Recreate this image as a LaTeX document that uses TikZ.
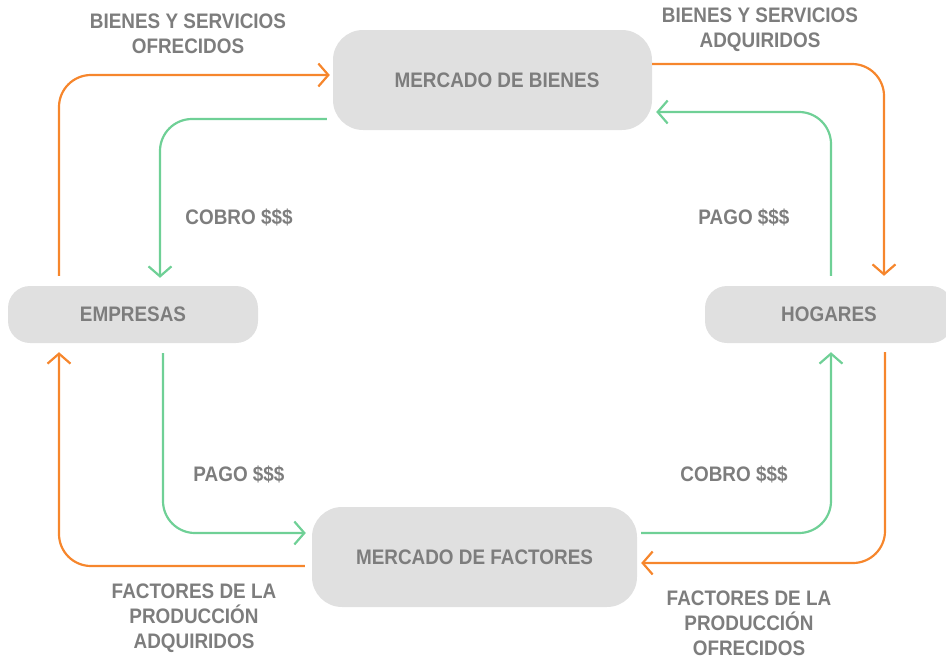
\documentclass[tikz,border=0pt]{standalone}
\usepackage{fontspec}
\setmainfont{Liberation Sans}[FakeStretch=0.9]
\usetikzlibrary{arrows.meta}
\definecolor{boxfill}{HTML}{E0E0E0}
\definecolor{txtgray}{HTML}{7D7D7D}
\definecolor{orangeC}{HTML}{F6862C}
\definecolor{greenC}{HTML}{6FD096}
\tikzset{
  box/.style={fill=boxfill, draw=none, text=txtgray, font=\bfseries\fontsize{21}{25}\selectfont, inner sep=0pt},
  lbl/.style={text=txtgray, font=\bfseries\fontsize{21}{25}\selectfont, align=center, inner sep=0pt},
  flow/.style={line width=2.2pt, rounded corners=32pt, -{Straight Barb[length=10pt,width=23pt,line width=2.2pt]}},
  oflow/.style={flow, draw=orangeC},
  gflow/.style={flow, draw=greenC}
}
\begin{document}
\begin{tikzpicture}[x=1pt,y=-1pt]
\useasboundingbox (0,0) rectangle (946,659);
\node[box, minimum width=319pt, minimum height=100pt, rounded corners=30pt] (bienes) at (492.5,80) {\hspace{9pt}MERCADO DE BIENES};
\node[box, minimum width=250pt, minimum height=57pt, rounded corners=22pt] (empresas) at (133,314.5) {EMPRESAS};
\node[box, minimum width=248pt, minimum height=57pt, rounded corners=22pt] (hogares) at (829,314.5) {HOGARES};
\node[box, minimum width=325pt, minimum height=100pt, rounded corners=30pt] (factores) at (474.5,557) {MERCADO DE FACTORES};

\draw[oflow] ([xshift=-74pt,yshift=10pt]empresas.north) |- ([xshift=-3pt,yshift=5pt]bienes.west);
\draw[gflow] ([xshift=-6pt,yshift=-39pt]bienes.west) -| ([xshift=27pt,yshift=8pt]empresas.north);
\draw[oflow] ([yshift=16pt]bienes.east) -| ([xshift=55pt,yshift=10pt]hogares.north);
\draw[gflow] ([xshift=2pt,yshift=10pt]hogares.north) |- ([xshift=4pt,yshift=-32pt]bienes.east);
\draw[gflow] ([xshift=30pt,yshift=-10pt]empresas.south) |- ([xshift=-6pt,yshift=24pt]factores.west);
\draw[oflow] ([xshift=-7pt,yshift=-9pt]factores.west) -| ([xshift=-74pt,yshift=-9pt]empresas.south);
\draw[gflow] ([xshift=4pt,yshift=24pt]factores.east) -| ([xshift=2pt,yshift=-9pt]hogares.south);
\draw[oflow] ([xshift=56pt,yshift=-9pt]hogares.south) |- ([xshift=4pt,yshift=-6pt]factores.east);

\node[lbl] (l1) at (188,34) {BIENES Y SERVICIOS\\OFRECIDOS};
\node[lbl] (l2) at (760,30) {BIENES Y SERVICIOS\\ADQUIRIDOS};
\node[lbl] (l3) at (239,217) {COBRO \$\$\$};
\node[lbl] (l4) at (744,217) {PAGO \$\$\$};
\node[lbl] (l5) at (239,474) {PAGO \$\$\$};
\node[lbl] (l6) at (734,474) {COBRO \$\$\$};
\node[lbl] (l7) at (194,618) {FACTORES DE LA\\PRODUCCIÓN\\ADQUIRIDOS};
\node[lbl] (l8) at (749,623) {FACTORES DE LA\\PRODUCCIÓN\\OFRECIDOS};
\end{tikzpicture}
\end{document}
